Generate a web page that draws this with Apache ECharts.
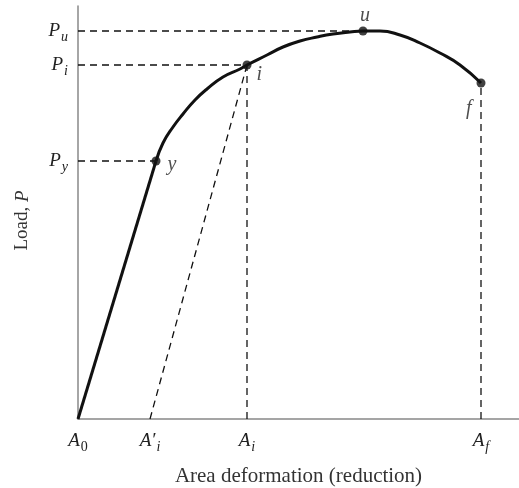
<!DOCTYPE html>
<html>
<head>
<meta charset="utf-8">
<script src="https://cdn.jsdelivr.net/npm/echarts@6/dist/echarts.min.js"></script>
<style>
  html, body { margin: 0; padding: 0; background: #fff; }
  #main { width: 519px; height: 488px; }
</style>
</head>
<body>
<div id="main"></div>
<script>
// 坐标单位：A0 为原点，横轴到右边界 441，纵轴到顶端 413
var xMax = 441;
var yMax = 413;

// 弹性段 A0 -> y
var elasticX = [0, 78];
var elasticY = [0, 258];

// 塑性段 y -> i -> u -> f
var curveX = [78, 85, 95, 105, 117, 129, 145, 162, 169, 189, 205, 222, 239, 255, 272, 285, 302, 322, 342, 362, 382, 403];
var curveY = [258, 276, 292, 305, 319, 330, 342, 350, 354, 364, 372, 378, 382, 385, 387, 388, 388, 384, 376, 366, 354, 336];

// 特征点
var pointNames = ['y', 'i', 'u', 'f'];
var pointX = [78, 169, 285, 403];
var pointY = [258, 354, 388, 336];

// 卸载线 A'i -> i
var unloadX = [72, 169];
var unloadY = [0, 354];

// 刻度
var xTickValues = [0, 72, 169, 403];
var xTickLabels = ['{m|A}{n|0}', '{m|A\u2032}{s|i}', '{m|A}{s|i}', '{m|A}{s|f}'];
var yTickValues = [258, 354, 388];
var yTickLabels = ['{m|P}{s|y}', '{m|P}{s|i}', '{m|P}{s|u}'];

var serif = 'Liberation Serif';

function pairs(xs, ys) {
    var out = [];
    for (var k = 0; k < xs.length; k++) out.push([xs[k], ys[k]]);
    return out;
}

var dashStyle = { color: '#111', width: 1.3, type: [7, 5] };

function dashSeries(data) {
    return {
        type: 'line',
        data: data,
        showSymbol: false,
        silent: true,
        lineStyle: dashStyle,
        z: 2
    };
}

var series = [];
// 水平虚线：P_y, P_i, P_u 到对应点
series.push(dashSeries([[0, pointY[0]], [pointX[0], pointY[0]]]));
series.push(dashSeries([[0, pointY[1]], [pointX[1], pointY[1]]]));
series.push(dashSeries([[0, pointY[2]], [pointX[2], pointY[2]]]));
// 竖直虚线：A_i, A_f
series.push(dashSeries([[pointX[1], 0], [pointX[1], pointY[1]]]));
series.push(dashSeries([[pointX[3], 0], [pointX[3], pointY[3]]]));
// 卸载线
series.push(dashSeries(pairs(unloadX, unloadY)));

// 实线
series.push({
    type: 'line',
    data: pairs(elasticX, elasticY),
    showSymbol: false,
    lineStyle: { color: '#111', width: 3 },
    z: 3
});
series.push({
    type: 'line',
    data: pairs(curveX, curveY),
    smooth: 0.5,
    showSymbol: false,
    lineStyle: { color: '#111', width: 3 },
    z: 3
});

// 点标签位置
var labelPos = {
    y: { position: 'right', offset: [2, 4] },
    i: { position: 'right', offset: [0, 10] },
    u: { position: 'top', offset: [2, 4] },
    f: { position: 'left', offset: [0, 26] }
};

var pts = [];
for (var k = 0; k < pointNames.length; k++) {
    var lp = labelPos[pointNames[k]];
    pts.push({
        value: [pointX[k], pointY[k]],
        name: pointNames[k],
        label: { position: lp.position, offset: lp.offset }
    });
}
series.push({
    type: 'scatter',
    data: pts,
    symbolSize: 9,
    itemStyle: { color: '#111' },
    label: {
        show: true,
        formatter: '{b}',
        fontFamily: serif,
        fontStyle: 'italic',
        fontSize: 20,
        color: '#222'
    },
    z: 4
});

var rich = {
    m: { fontFamily: serif, fontStyle: 'italic', fontSize: 19, color: '#222' },
    s: { fontFamily: serif, fontStyle: 'italic', fontSize: 14, color: '#222', padding: [12, 0, 0, 1] },
    n: { fontFamily: serif, fontSize: 14, color: '#222', padding: [12, 0, 0, 1] }
};

var option = {
    animation: false,
    backgroundColor: '#fff',
    grid: { left: 78, right: 0, top: 6, bottom: 69, outerBoundsMode: 'none' },
    xAxis: {
        type: 'value',
        min: 0,
        max: xMax,
        name: 'Area deformation (reduction)',
        nameLocation: 'middle',
        nameGap: 47,
        nameTextStyle: { fontFamily: serif, fontSize: 21, color: '#333' },
        axisLine: { lineStyle: { color: '#888', width: 1.5 } },
        axisTick: { show: false },
        splitLine: { show: false },
        axisLabel: {
            customValues: xTickValues,
            margin: 9,
            formatter: function (v) {
                return xTickLabels[xTickValues.indexOf(v)];
            },
            rich: rich
        }
    },
    yAxis: {
        type: 'value',
        min: 0,
        max: yMax,
        name: 'Load, {p|P}',
        nameLocation: 'middle',
        nameGap: 46,
        nameRotate: 90,
        nameTextStyle: {
            fontFamily: serif, fontSize: 19, color: '#333',
            padding: [0, 16, 0, 0],
            rich: {
                p: { fontFamily: serif, fontStyle: 'italic', fontSize: 19, color: '#333' }
            }
        },
        axisLine: { lineStyle: { color: '#888', width: 1.5 } },
        axisTick: { show: false },
        splitLine: { show: false },
        axisLabel: {
            customValues: yTickValues,
            margin: 10,
            formatter: function (v) {
                return yTickLabels[yTickValues.indexOf(v)];
            },
            rich: rich
        }
    },
    series: series
};

var myChart = echarts.init(document.getElementById('main'));
myChart.setOption(option);
</script>
</body>
</html>
